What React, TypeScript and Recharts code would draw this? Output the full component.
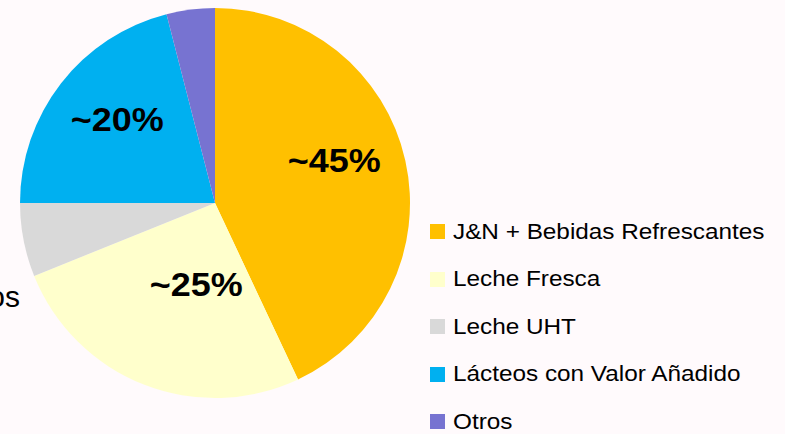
import { PieChart, Pie, Cell, Legend } from 'recharts';

const categories = ['J&N + Bebidas Refrescantes', 'Leche Fresca', 'Leche UHT', 'Lácteos con Valor Añadido', 'Otros'];
const shares = [43, 25.9, 6.1, 21, 4];
const sliceLabels = ['~45%', '~25%', '', '~20%', ''];
const colors = ['#FFC000', '#FFFFCC', '#D9D9D9', '#00B0F0', '#7773D1'];

const data = categories.map((name, i) => ({ name, value: shares[i], label: sliceLabels[i] }));

// label placement tweaks: radius fraction and angle shift (deg) per slice
const labelPos = [
    { r: 0.65, shift: 7.2 },
    { r: 0.43, shift: 8.5 },
    { r: 0.5, shift: 0 },
    { r: 0.66, shift: -2.8 },
    { r: 0.5, shift: 0 },
];

const RAD = Math.PI / 180;
const FONT = '"Liberation Sans", Arial, sans-serif';

function renderLabel(props: any) {
    const { cx, cy, midAngle, outerRadius, index } = props;
    const text = sliceLabels[index];
    if (!text) return null;
    const p = labelPos[index];
    const a = (midAngle + p.shift) * RAD;
    const x = cx + outerRadius * p.r * Math.cos(a);
    const y = cy - outerRadius * p.r * Math.sin(a);
    return (
        <text
            transform={`translate(${x},${y}) scale(1.09,1)`}
            textAnchor="middle"
            dominantBaseline="central"
            fontFamily={FONT}
            fontWeight="bold"
            fontSize={33}
            fill="#000"
        >
            {text}
        </text>
    );
}

function renderLegend(props: any) {
    const { payload } = props;
    return (
        <div>
            {payload.map((entry: any, i: number) => (
                <div key={i} style={{ height: 47.5, display: 'flex', alignItems: 'center' }}>
                    <span style={{ width: 15, height: 15, background: entry.color, display: 'inline-block' }} />
                    <span
                        style={{
                            marginLeft: 8,
                            fontFamily: FONT,
                            fontSize: 22,
                            color: '#000',
                            whiteSpace: 'nowrap',
                            transform: 'scaleX(1.105)',
                            transformOrigin: 'left center',
                            display: 'inline-block',
                        }}
                    >
                        {entry.value}
                    </span>
                </div>
            ))}
        </div>
    );
}

export default function App() {
    return (
        <div style={{ position: 'fixed', left: 0, top: 0, width: 785, height: 434, background: '#FFFAFC', overflow: 'hidden' }}>
            <PieChart width={785} height={434} margin={{ top: 0, right: 0, bottom: 0, left: 0 }}>
                <Pie
                    data={data}
                    dataKey="value"
                    nameKey="name"
                    cx={215}
                    cy={203}
                    outerRadius={195}
                    startAngle={90}
                    endAngle={-270}
                    stroke="none"
                    label={renderLabel}
                    labelLine={false}
                    isAnimationActive={false}
                >
                    {data.map((_, i) => <Cell key={i} fill={colors[i]} />)}
                </Pie>
                <Legend
                    layout="vertical"
                    content={renderLegend}
                    wrapperStyle={{ position: 'absolute', left: 430, top: 208, width: 355, bottom: 'auto', right: 'auto' }}
                />
            </PieChart>
            <div
                style={{
                    position: 'absolute',
                    right: 785 - 20,
                    top: 279,
                    fontFamily: FONT,
                    fontSize: 30,
                    lineHeight: '36px',
                    color: '#000',
                    whiteSpace: 'nowrap',
                }}
            >
                os
            </div>
        </div>
    );
}
